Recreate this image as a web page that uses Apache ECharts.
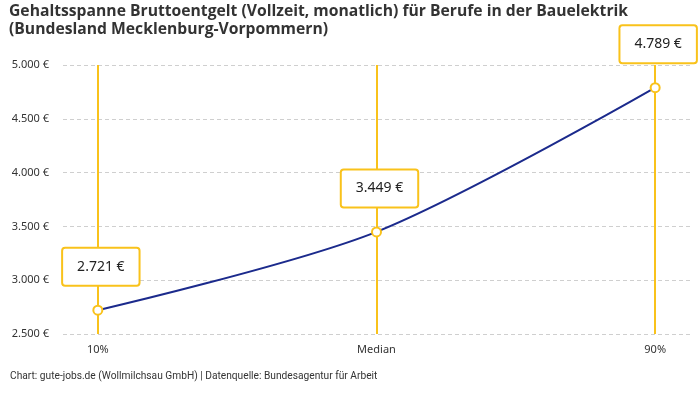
<!DOCTYPE html>
<html>
<head>
<meta charset="utf-8">
<script src="https://cdn.jsdelivr.net/npm/echarts@6/dist/echarts.min.js"></script>
<style>html,body{margin:0;padding:0;background:#fff}#c{width:700px;height:400px}</style>
</head>
<body>
<div id="c"></div>
<script>
const titleText = 'Gehaltsspanne Bruttoentgelt (Vollzeit, monatlich) für Berufe in der Bauelektrik\n(Bundesland Mecklenburg-Vorpommern)';
const footerText = 'Chart: gute-jobs.de (Wollmilchsau GmbH) | Datenquelle: Bundesagentur für Arbeit';
const categories = ['10%', 'Median', '90%'];
const positions = [10, 50, 90];
const salaries = [2721, 3449, 4789];
const yTicks = [2500, 3000, 3500, 4000, 4500, 5000];

function fmt(v) {
  const s = String(Math.round(v));
  return s.replace(/\B(?=(\d{3})+(?!\d))/g, '.') + ' €';
}
const yellow = '#f9c21b';
const blue = '#1b2a8c';

const chart = echarts.init(document.getElementById('c'));
chart.setOption({
  animation: false,
  title: {
    text: titleText,
    left: 9, top: 3, padding: 0,
    textStyle: { fontFamily: 'Open Sans', fontSize: 15.7, fontWeight: 'bold', color: '#333', lineHeight: 18 }
  },
  graphic: [{
    type: 'text', left: 10, top: 371,
    style: { text: footerText, fontFamily: 'Roboto', fontSize: 10.2, fill: '#333' }
  }],
  grid: { left: 63, right: 10, top: 65, bottom: 66 },
  xAxis: {
    type: 'value', min: 5, max: 95,
    axisLine: { show: false }, axisTick: { show: false }, splitLine: { show: false },
    axisLabel: {
      customValues: positions,
      formatter: v => categories[positions.indexOf(v)] || '',
      fontFamily: 'Noto Sans', fontSize: 11, color: '#333', margin: 10
    }
  },
  yAxis: {
    type: 'value', min: yTicks[0], max: yTicks[yTicks.length - 1], interval: 500,
    axisLine: { show: false }, axisTick: { show: false },
    splitLine: { lineStyle: { type: [4, 3], color: '#cfcfcf' } },
    axisLabel: { formatter: fmt, fontFamily: 'Noto Sans', fontSize: 11, color: '#333', margin: 14 }
  },
  series: [{
    type: 'line',
    data: positions.map((p, i) => [p, salaries[i]]),
    smooth: 0.3,
    lineStyle: { color: blue, width: 2 },
    symbol: 'circle', symbolSize: 9,
    itemStyle: { color: '#fff', borderColor: yellow, borderWidth: 2 },
    z: 5,
    label: {
      show: true, position: 'top', distance: 20, offset: [3, 0],
      formatter: p => fmt(p.value[1]),
      fontFamily: 'Noto Sans', fontSize: 14, color: '#222',
      backgroundColor: '#fff', borderColor: yellow, borderWidth: 2, borderRadius: 2,
      padding: [11, 14, 11, 14]
    },
    markLine: {
      silent: true, symbol: 'none', z: 1,
      label: { show: false },
      lineStyle: { color: yellow, width: 2, type: 'solid' },
      data: positions.map(p => ({ xAxis: p }))
    }
  }]
});
</script>
</body>
</html>
